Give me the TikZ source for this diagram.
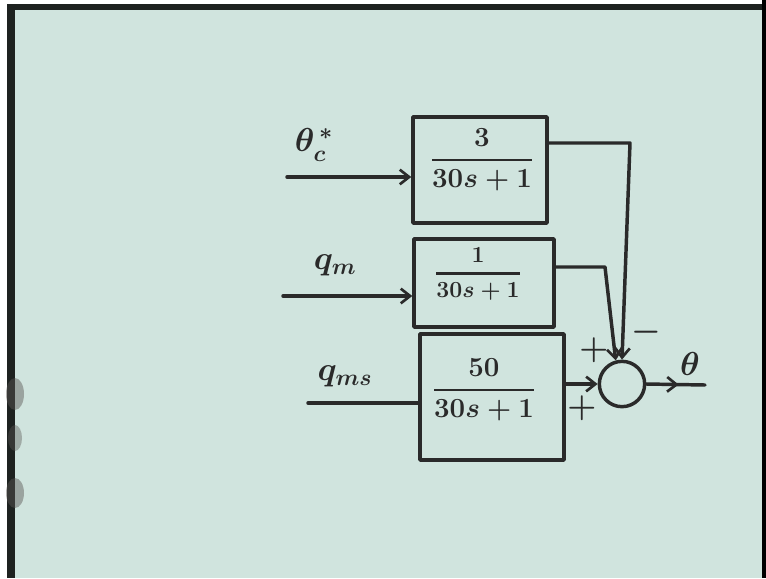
\documentclass[tikz,border=0pt]{standalone}
\usepackage{amsmath}
\usetikzlibrary{arrows.meta,decorations.markings,calc}
\definecolor{paper}{HTML}{D0E4DE}
\definecolor{ink}{HTML}{2A2A2A}
\definecolor{edge}{HTML}{1E2220}
\definecolor{finger}{HTML}{5A5653}
\newcommand{\blkfrac}[2]{\genfrac{}{}{2pt}{0}{#1}{#2}}
\begin{document}
\begin{tikzpicture}[x=0.75pt,y=-0.75pt,
  inkline/.style={draw=ink,line width=2.6pt,line cap=round,line join=round},
  blockbox/.style={inkline,rectangle,inner sep=0pt},
  sumnode/.style={inkline,circle,minimum size=34pt,inner sep=0pt},
  lab/.style={font=\fontsize{20}{24}\selectfont\boldmath,text=ink,inner sep=0pt},
  biglab/.style={font=\fontsize{25}{30}\selectfont\boldmath,text=ink,inner sep=0pt},
  arr/.style={-{Straight Barb[length=7pt,width=11pt,line width=2pt]}},
  midarrow/.style={postaction={decorate},decoration={markings,
     mark=at position 0.55 with {\arrow[ink,line width=2pt]{Straight Barb[length=7pt,width=11pt]}}}},
]
\useasboundingbox (0,0) rectangle (766,578);
% paper and edges
\fill[white] (0,0) rectangle (766,578);
\fill[paper] (7,4) rectangle (762,578);
\fill[edge] (7,4) rectangle (762,10);
\fill[edge] (7,4) rectangle (15,578);
\fill[black] (762,0) rectangle (766,578);
\fill[finger,opacity=0.45] (15,394) ellipse [x radius=9, y radius=16];
\fill[finger,opacity=0.4] (15,438) ellipse [x radius=7, y radius=13];
\fill[finger,opacity=0.45] (15,493) ellipse [x radius=9, y radius=15];

% blocks
\node[blockbox,minimum width=100.5pt,minimum height=79.5pt] (b1) at (480,170) {};
\node[blockbox,minimum width=105pt,minimum height=66pt] (b2) at (484,283) {};
\node[blockbox,minimum width=108pt,minimum height=94.5pt] (b3) at (492,397) {};

% transfer functions
\node[lab] (f1) at (482,160) {$\blkfrac{3}{30s+1}$};
\node[lab,font=\fontsize{16}{20}\selectfont\boldmath] (f2) at (478,274) {$\blkfrac{1}{30s+1}$};
\node[lab] (f3) at (484,390) {$\blkfrac{50}{30s+1}$};

% summing junction
\node[sumnode] (s) at (622,384) {};

% input labels
\node[biglab] (l1) at (314,145) {$\theta_c^{\,*}$};
\node[biglab] (l2) at (335,265) {$q_m$};
\node[biglab] (l3) at (345,376) {$q_{ms}$};
\node[biglab] (lo) at (690,364) {$\theta$};

% signs
\node[biglab] (p1) at (594,350) {$+$};
\node[biglab] (p2) at (582,408) {$+$};
\node[biglab] (m1) at (646,332) {$-$};

% inputs
\coordinate (i1) at (287,177);
\coordinate (i2) at (283,296);
\coordinate (i3) at (308,403);
\draw[inkline,arr] (i1) -- (i1 -| b1.west);
\draw[inkline,arr] (i2) -- (i2 -| b2.west);
\draw[inkline] (i3) -- (i3 -| b3.west);

% outputs to summing junction
\coordinate (j1) at (630,143);
\coordinate (j2) at (605,267);
\draw[inkline,arr] (b1.east |- j1) -- (j1) -- (s.north);
\draw[inkline,arr] (b2.east |- j2) -- (j2) -- (s.105);
\draw[inkline,arr] (s.west -| b3.east) -- (s.west);

% output
\coordinate (o) at (705,385);
\draw[inkline,midarrow] (s.east) -- (o);
\end{tikzpicture}
\end{document}
